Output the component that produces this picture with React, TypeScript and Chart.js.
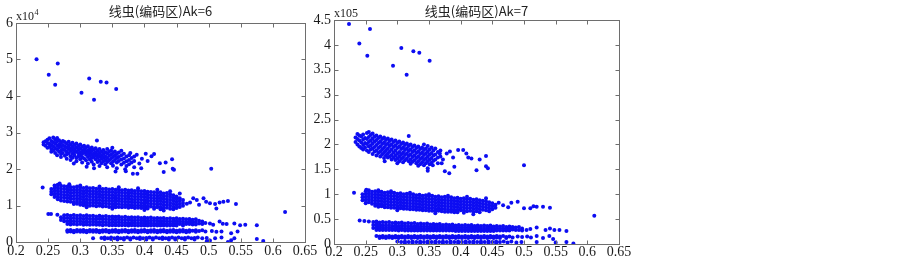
import { useEffect, useRef } from "react";
import { Chart, registerables } from "chart.js";

Chart.register(...registerables);

type Col = [number, number[]];
type Pt = [number, number];

// ---------- tick labels ----------
const xTickLabels = ["0.2", "0.25", "0.3", "0.35", "0.4", "0.45", "0.5", "0.55", "0.6", "0.65"];
const yTickLabelsAk6 = ["0", "1", "2", "3", "4", "5", "6"];
const yTickLabelsAk7 = ["0", "0.5", "1", "1.5", "2", "2.5", "3", "3.5", "4", "4.5"];

const titleAk6 = "线虫(编码区)Ak=6";
const titleAk7 = "线虫(编码区)Ak=7";
const expAk6 = "x10";
const expAk6Sup = "4";
const expAk7 = "x105";

// ---------- Ak=6 data (y in units of 10^4) ----------
const ak6Outliers: Pt[] = [
  [0.232, 5.01], [0.265, 4.89], [0.251, 4.58], [0.261, 4.31], [0.302, 4.09],
  [0.314, 4.48], [0.3215, 3.9], [0.332, 4.39], [0.341, 4.37], [0.356, 4.19],
];

const ak6UpperCols: Col[] = [
  [0.243, [2.73, 2.67]], [0.246, [2.76, 2.64]], [0.249, [2.8, 2.71, 2.58]],
  [0.252, [2.84, 2.69, 2.61]], [0.255, [2.77, 2.66, 2.55, 2.47]], [0.258, [2.86, 2.73, 2.62, 2.51]],
  [0.261, [2.81, 2.7, 2.57, 2.44]], [0.264, [2.85, 2.76, 2.64, 2.53, 2.38]], [0.267, [2.79, 2.68, 2.59, 2.47]],
  [0.27, [2.72, 2.61, 2.5, 2.41, 2.33]], [0.273, [2.77, 2.66, 2.55, 2.44]], [0.276, [2.74, 2.62, 2.52, 2.36]],
  [0.279, [2.7, 2.59, 2.47, 2.4, 2.28]], [0.282, [2.75, 2.64, 2.55, 2.43]], [0.285, [2.68, 2.57, 2.49, 2.35, 2.25]],
  [0.288, [2.72, 2.61, 2.52, 2.42, 2.31]], [0.291, [2.66, 2.55, 2.46, 2.37]], [0.294, [2.7, 2.59, 2.48, 2.3, 2.21]],
  [0.297, [2.63, 2.53, 2.43, 2.34]], [0.3, [2.67, 2.56, 2.45, 2.38, 2.27]], [0.303, [2.61, 2.5, 2.41, 2.32, 2.18]],
  [0.306, [2.64, 2.54, 2.46, 2.29]], [0.309, [2.58, 2.48, 2.39, 2.24]], [0.312, [2.62, 2.51, 2.43, 2.33, 2.15]],
  [0.315, [2.55, 2.46, 2.36, 2.26]], [0.318, [2.59, 2.49, 2.4, 2.3, 2.2]], [0.321, [2.53, 2.42, 2.33, 2.12]],
  [0.324, [2.57, 2.46, 2.37, 2.27]], [0.327, [2.5, 2.4, 2.31, 2.19]], [0.33, [2.55, 2.44, 2.34, 2.23, 2.08]],
  [0.333, [2.48, 2.38, 2.28, 2.16]], [0.336, [2.52, 2.41, 2.31, 2.21]], [0.339, [2.46, 2.35, 2.25, 2.13]],
  [0.342, [2.55, 2.43, 2.3, 2.19, 2.05]], [0.345, [2.47, 2.36, 2.24]], [0.348, [2.51, 2.39, 2.28, 2.16]],
  [0.351, [2.44, 2.33, 2.2, 2.09]], [0.354, [2.48, 2.36, 2.25]], [0.357, [2.41, 2.3, 2.18, 2.02]],
  [0.36, [2.45, 2.33, 2.22]], [0.364, [2.38, 2.26, 2.12]], [0.368, [2.42, 2.29, 2.17]],
  [0.372, [2.34, 2.21, 2.08]], [0.376, [2.38, 2.25, 2.13]], [0.38, [2.3, 2.18]], [0.384, [2.34, 2.22]],
];
const ak6UpperPts: Pt[] = [
  [0.326, 2.78], [0.3215, 2.02], [0.355, 1.93], [0.371, 1.94], [0.382, 1.87], [0.389, 1.87],
  [0.384, 2.05], [0.37, 1.99], [0.388, 2.39], [0.392, 2.15], [0.396, 2.28], [0.402, 2.42],
  [0.411, 2.35], [0.415, 2.41], [0.424, 2.16], [0.433, 2.18], [0.443, 2.27], [0.43, 1.92],
  [0.444, 2.01], [0.446, 1.98], [0.504, 2.01], [0.364, 2.5], [0.378, 2.44], [0.395, 2.02],
  [0.405, 2.22], [0.29, 2.15], [0.31, 2.06], [0.35, 2.58],
];

const ak6MidCols: Col[] = [
  [0.255, [1.45, 1.38, 1.31]], [0.26, [1.55, 1.47, 1.39, 1.31, 1.23]],
  [0.265, [1.57, 1.49, 1.41, 1.33, 1.25, 1.17]], [0.27, [1.54, 1.46, 1.38, 1.3, 1.22, 1.14]],
  [0.275, [1.53, 1.45, 1.37, 1.29, 1.21, 1.12]], [0.28, [1.52, 1.44, 1.36, 1.28, 1.2, 1.11]],
  [0.285, [1.51, 1.43, 1.35, 1.27, 1.19, 1.1]], [0.29, [1.5, 1.42, 1.34, 1.26, 1.18, 1.09, 1.04]],
  [0.295, [1.52, 1.44, 1.36, 1.28, 1.2, 1.12, 1.05]], [0.3, [1.49, 1.41, 1.33, 1.25, 1.17, 1.09, 1.02]],
  [0.305, [1.48, 1.4, 1.32, 1.24, 1.16, 1.08, 1.01]], [0.31, [1.5, 1.42, 1.34, 1.26, 1.18, 1.1, 1.03]],
  [0.315, [1.47, 1.39, 1.31, 1.23, 1.15, 1.07, 0.99]], [0.32, [1.48, 1.4, 1.32, 1.24, 1.16, 1.08, 1.0]],
  [0.325, [1.46, 1.38, 1.3, 1.22, 1.14, 1.06, 0.98]], [0.33, [1.47, 1.39, 1.31, 1.23, 1.15, 1.07, 0.99]],
  [0.335, [1.45, 1.37, 1.29, 1.21, 1.13, 1.05, 0.97]], [0.34, [1.46, 1.38, 1.3, 1.22, 1.14, 1.06, 0.98]],
  [0.345, [1.44, 1.36, 1.28, 1.2, 1.12, 1.04, 0.96]], [0.35, [1.45, 1.37, 1.29, 1.21, 1.13, 1.05, 0.97]],
  [0.355, [1.43, 1.35, 1.27, 1.19, 1.11, 1.03, 0.95]], [0.36, [1.44, 1.36, 1.28, 1.2, 1.12, 1.04, 0.96]],
  [0.365, [1.42, 1.34, 1.26, 1.18, 1.1, 1.02, 0.95]], [0.37, [1.43, 1.35, 1.27, 1.19, 1.11, 1.03, 0.96]],
  [0.375, [1.41, 1.33, 1.25, 1.17, 1.09, 1.01, 0.94]], [0.38, [1.42, 1.34, 1.26, 1.18, 1.1, 1.02, 0.95]],
  [0.385, [1.4, 1.32, 1.24, 1.16, 1.08, 1.0, 0.93]], [0.39, [1.41, 1.33, 1.25, 1.17, 1.09, 1.01, 0.94]],
  [0.395, [1.39, 1.31, 1.23, 1.15, 1.07, 0.99, 0.93]], [0.4, [1.4, 1.32, 1.24, 1.16, 1.08, 1.0, 0.92]],
  [0.405, [1.38, 1.3, 1.22, 1.14, 1.06, 0.98, 0.92]], [0.41, [1.37, 1.29, 1.21, 1.13, 1.05, 0.97]],
  [0.415, [1.36, 1.28, 1.2, 1.12, 1.04, 0.96, 0.91]], [0.42, [1.35, 1.27, 1.19, 1.11, 1.03, 0.95]],
  [0.425, [1.36, 1.28, 1.2, 1.12, 1.04, 0.96, 0.9]], [0.43, [1.33, 1.25, 1.17, 1.09, 1.01, 0.93]],
  [0.435, [1.34, 1.26, 1.18, 1.1, 1.02, 0.94]], [0.44, [1.31, 1.23, 1.15, 1.07, 0.99, 0.91]],
  [0.445, [1.28, 1.2, 1.12, 1.04, 0.96, 0.9]], [0.45, [1.25, 1.17, 1.09, 1.01, 0.93]],
  [0.455, [1.2, 1.12, 1.04, 0.96]], [0.46, [1.15, 1.07, 0.99]],
];
const ak6MidPts: Pt[] = [
  [0.2415, 1.49], [0.268, 1.6], [0.283, 1.58], [0.3, 1.55], [0.33, 1.52], [0.36, 1.5],
  [0.39, 1.47], [0.42, 1.43], [0.44, 1.39], [0.455, 1.33], [0.31, 0.95], [0.35, 0.91],
  [0.4, 0.88], [0.43, 0.86], [0.466, 1.05], [0.471, 1.08], [0.476, 1.2], [0.4815, 1.15],
  [0.485, 1.02], [0.492, 1.2], [0.496, 1.1], [0.502, 1.06], [0.51, 1.04], [0.512, 0.92],
  [0.517, 1.08], [0.523, 1.1], [0.53, 1.12], [0.5425, 1.04], [0.619, 0.82],
];

const ak6LowCols: Col[] = [
  [0.27, [0.68, 0.6]], [0.275, [0.73, 0.65, 0.57]], [0.28, [0.74, 0.66, 0.57, 0.49]],
  [0.285, [0.72, 0.64, 0.56, 0.48]], [0.29, [0.74, 0.66, 0.57, 0.49]], [0.295, [0.72, 0.64, 0.56, 0.48]],
  [0.3, [0.73, 0.65, 0.57, 0.49]], [0.305, [0.71, 0.63, 0.55, 0.47]], [0.31, [0.73, 0.65, 0.56, 0.48]],
  [0.315, [0.71, 0.63, 0.55, 0.47]], [0.32, [0.72, 0.64, 0.56, 0.48]], [0.325, [0.7, 0.62, 0.54, 0.47]],
  [0.33, [0.72, 0.64, 0.55, 0.47]], [0.335, [0.7, 0.62, 0.54, 0.46]], [0.34, [0.71, 0.63, 0.55, 0.47]],
  [0.345, [0.69, 0.61, 0.53, 0.46]], [0.35, [0.7, 0.62, 0.54, 0.46]], [0.355, [0.69, 0.61, 0.53, 0.46]],
  [0.36, [0.7, 0.62, 0.54, 0.46]], [0.365, [0.68, 0.6, 0.53, 0.46]], [0.37, [0.69, 0.61, 0.53, 0.46]],
  [0.375, [0.67, 0.6, 0.52, 0.45]], [0.38, [0.68, 0.6, 0.53, 0.46]], [0.385, [0.67, 0.59, 0.52, 0.45]],
  [0.39, [0.68, 0.6, 0.52, 0.45]], [0.395, [0.66, 0.59, 0.52, 0.45]], [0.4, [0.67, 0.59, 0.52, 0.45]],
  [0.405, [0.66, 0.58, 0.51, 0.45]], [0.41, [0.67, 0.59, 0.52, 0.45]], [0.415, [0.65, 0.58, 0.51, 0.45]],
  [0.42, [0.66, 0.58, 0.51, 0.45]], [0.425, [0.65, 0.57, 0.51, 0.45]], [0.43, [0.66, 0.58, 0.51, 0.45]],
  [0.435, [0.64, 0.57, 0.5, 0.45]], [0.44, [0.65, 0.57, 0.5, 0.45]], [0.445, [0.64, 0.57, 0.5, 0.45]],
  [0.45, [0.65, 0.57, 0.5, 0.45]], [0.455, [0.63, 0.56, 0.49]], [0.46, [0.64, 0.56, 0.5, 0.45]],
  [0.465, [0.62, 0.55, 0.49]], [0.47, [0.63, 0.56, 0.49]], [0.475, [0.61, 0.54, 0.48]],
  [0.48, [0.62, 0.55, 0.48]], [0.485, [0.58, 0.51]], [0.49, [0.56, 0.49]],
];
const ak6LowPts: Pt[] = [
  [0.2503, 0.77], [0.2545, 0.77], [0.2644, 0.75], [0.495, 0.52], [0.502, 0.51], [0.507, 0.47],
  [0.517, 0.56], [0.522, 0.5], [0.528, 0.49], [0.54, 0.51], [0.549, 0.46], [0.557, 0.47],
  [0.575, 0.46],
];

const ak6ThinCols: Col[] = [
  [0.28, [0.32, 0.28]], [0.285, [0.33, 0.29]], [0.29, [0.31, 0.27]], [0.295, [0.33, 0.29]],
  [0.3, [0.32, 0.28]], [0.305, [0.33, 0.28]], [0.31, [0.31, 0.27]], [0.315, [0.33, 0.29]],
  [0.32, [0.32, 0.28]], [0.325, [0.33, 0.28]], [0.33, [0.31, 0.27]], [0.335, [0.32, 0.28]],
  [0.34, [0.33, 0.29]], [0.345, [0.31, 0.27]], [0.35, [0.32, 0.28]], [0.355, [0.33, 0.28]],
  [0.36, [0.31, 0.27]], [0.365, [0.32, 0.28]], [0.37, [0.33, 0.29]], [0.375, [0.31, 0.27]],
  [0.38, [0.32, 0.28]], [0.385, [0.33, 0.28]], [0.39, [0.31, 0.27]], [0.395, [0.32, 0.28]],
  [0.4, [0.33, 0.29]], [0.405, [0.31, 0.27]], [0.41, [0.32, 0.28]], [0.415, [0.33, 0.28]],
  [0.42, [0.31, 0.27]], [0.425, [0.32, 0.28]], [0.43, [0.33, 0.29]], [0.435, [0.31, 0.27]],
  [0.44, [0.32, 0.28]], [0.445, [0.33, 0.28]], [0.45, [0.31, 0.27]], [0.455, [0.32, 0.28]],
  [0.46, [0.33, 0.29]], [0.465, [0.31, 0.27]], [0.47, [0.32, 0.28]], [0.475, [0.31]],
  [0.48, [0.32, 0.28]], [0.485, [0.3]], [0.49, [0.32]], [0.495, [0.29]],
];
const ak6ThinPts: Pt[] = [
  [0.505, 0.3], [0.512, 0.28], [0.52, 0.29], [0.535, 0.24], [0.545, 0.29],
];

const ak6BaseCols: Col[] = [
  [0.333, [0.11]], [0.338, [0.12, 0.08]], [0.343, [0.1]], [0.348, [0.12, 0.08]], [0.353, [0.1]],
  [0.358, [0.12, 0.07]], [0.363, [0.1]], [0.368, [0.11, 0.07]], [0.373, [0.12]], [0.378, [0.1, 0.07]],
  [0.383, [0.12]], [0.388, [0.1]], [0.393, [0.12, 0.08]], [0.398, [0.1]], [0.403, [0.11, 0.07]],
  [0.408, [0.12]], [0.413, [0.1, 0.07]], [0.418, [0.12]], [0.423, [0.1]], [0.428, [0.12, 0.08]],
  [0.433, [0.1]], [0.438, [0.11, 0.07]], [0.443, [0.12]], [0.448, [0.1, 0.07]], [0.453, [0.12]],
  [0.458, [0.1]], [0.463, [0.11, 0.07]], [0.468, [0.12]], [0.473, [0.1]], [0.478, [0.11, 0.07]],
  [0.483, [0.12]], [0.49, [0.1]], [0.497, [0.11, 0.02]],
];
const ak6BasePts: Pt[] = [
  [0.32, 0.1], [0.502, 0.04], [0.51, 0.1], [0.52, 0.12], [0.53, 0.0], [0.535, 0.05],
  [0.54, 0.1], [0.575, 0.08], [0.585, 0.03],
];

// ---------- Ak=7 data (y in units of 10^5) ----------
const ak7Outliers: Pt[] = [
  [0.2237, 4.42], [0.2568, 4.32], [0.24, 4.03], [0.2526, 3.78], [0.2932, 3.58],
  [0.3063, 3.94], [0.3147, 3.4], [0.3253, 3.87], [0.3347, 3.84], [0.351, 3.68],
];

const ak7UpperCols: Col[] = [
  [0.234, [2.14, 2.05]], [0.237, [2.21, 2.11, 2.0]], [0.24, [2.18, 2.08, 1.96]],
  [0.243, [2.16, 2.04, 1.93]], [0.246, [2.2, 2.1, 1.99, 1.9]], [0.249, [2.13, 2.03, 1.94]],
  [0.252, [2.23, 2.11, 2.01, 1.88]], [0.255, [2.25, 2.15, 2.05, 1.96, 1.85]], [0.258, [2.19, 2.08, 1.98, 1.9]],
  [0.261, [2.22, 2.12, 2.02, 1.92, 1.81]], [0.264, [2.16, 2.06, 1.95, 1.86]], [0.267, [2.18, 2.09, 1.99, 1.88, 1.78]],
  [0.27, [2.13, 2.03, 1.93, 1.83]], [0.273, [2.16, 2.06, 1.96, 1.86, 1.76]], [0.276, [2.11, 2.01, 1.9, 1.8]],
  [0.279, [2.14, 2.04, 1.94, 1.84, 1.73]], [0.282, [2.09, 1.99, 1.88, 1.78]], [0.285, [2.12, 2.02, 1.92, 1.82, 1.74]],
  [0.288, [2.07, 1.97, 1.86, 1.76]], [0.291, [2.1, 2.0, 1.9, 1.79, 1.7]], [0.294, [2.05, 1.95, 1.84, 1.74]],
  [0.297, [2.08, 1.98, 1.88, 1.78, 1.69]], [0.3, [2.03, 1.93, 1.82, 1.72]], [0.303, [2.06, 1.96, 1.85, 1.76, 1.66]],
  [0.306, [2.01, 1.91, 1.8, 1.71]], [0.309, [2.04, 1.94, 1.84, 1.74, 1.64]], [0.312, [1.99, 1.89, 1.79, 1.68]],
  [0.315, [2.02, 1.92, 1.82, 1.72]], [0.318, [2.17, 1.97, 1.87, 1.77, 1.66]], [0.321, [2.0, 1.9, 1.8, 1.7, 1.61]],
  [0.324, [1.95, 1.85, 1.75, 1.65]], [0.327, [1.98, 1.88, 1.78, 1.68]], [0.33, [1.93, 1.83, 1.73, 1.62]],
  [0.333, [1.96, 1.86, 1.76, 1.66, 1.57]], [0.336, [1.91, 1.81, 1.71, 1.6]], [0.339, [1.94, 1.84, 1.74, 1.64]],
  [0.342, [2.0, 1.89, 1.79, 1.69, 1.58]], [0.345, [1.92, 1.82, 1.72, 1.62]], [0.348, [1.97, 1.86, 1.76, 1.66, 1.52]],
  [0.351, [1.9, 1.8, 1.7, 1.6]], [0.354, [1.94, 1.83, 1.73, 1.63]], [0.357, [1.88, 1.78, 1.67]],
  [0.36, [1.92, 1.8, 1.7]], [0.364, [1.85, 1.74, 1.62]], [0.368, [1.88, 1.76]],
];
const ak7UpperPts: Pt[] = [
  [0.348, 1.47], [0.356, 1.58], [0.367, 1.82], [0.372, 1.7], [0.375, 1.46], [0.378, 1.82],
  [0.382, 1.42], [0.383, 1.86], [0.388, 1.74], [0.396, 1.89], [0.404, 1.89], [0.409, 1.82],
  [0.412, 1.74], [0.417, 1.72], [0.425, 1.48], [0.43, 1.7], [0.44, 1.77], [0.44, 1.56],
  [0.443, 1.52], [0.5, 1.58], [0.37, 1.62], [0.39, 1.55], [0.28, 1.66], [0.3, 1.62],
];

const ak7MidCols: Col[] = [
  [0.245, [1.0, 0.94, 0.88]], [0.25, [1.06, 1.0, 0.94, 0.88, 0.82]], [0.255, [1.08, 1.02, 0.96, 0.9, 0.84]],
  [0.26, [1.05, 0.99, 0.93, 0.87, 0.81]], [0.265, [1.06, 1.0, 0.94, 0.88, 0.82, 0.77]],
  [0.27, [1.04, 0.98, 0.92, 0.86, 0.8, 0.75]], [0.275, [1.05, 0.99, 0.93, 0.87, 0.81, 0.76]],
  [0.28, [1.03, 0.97, 0.91, 0.85, 0.79, 0.74]], [0.285, [1.04, 0.98, 0.92, 0.86, 0.8, 0.74]],
  [0.29, [1.02, 0.96, 0.9, 0.84, 0.78, 0.73]], [0.295, [1.03, 0.97, 0.91, 0.85, 0.79, 0.73]],
  [0.3, [1.01, 0.95, 0.89, 0.83, 0.77, 0.72]], [0.305, [1.02, 0.96, 0.9, 0.84, 0.78, 0.72]],
  [0.31, [1.0, 0.94, 0.88, 0.82, 0.76, 0.71]], [0.315, [1.01, 0.95, 0.89, 0.83, 0.77, 0.71]],
  [0.32, [0.99, 0.93, 0.87, 0.81, 0.75, 0.7]], [0.325, [1.0, 0.94, 0.88, 0.82, 0.76, 0.7]],
  [0.33, [0.98, 0.92, 0.86, 0.8, 0.74, 0.69]], [0.335, [0.99, 0.93, 0.87, 0.81, 0.75, 0.69]],
  [0.34, [0.97, 0.91, 0.85, 0.79, 0.73, 0.68]], [0.345, [0.98, 0.92, 0.86, 0.8, 0.74, 0.68]],
  [0.35, [0.96, 0.9, 0.84, 0.78, 0.72, 0.67]], [0.355, [0.97, 0.91, 0.85, 0.79, 0.73, 0.67]],
  [0.36, [0.95, 0.89, 0.83, 0.77, 0.71, 0.66]], [0.365, [0.96, 0.9, 0.84, 0.78, 0.72, 0.67]],
  [0.37, [0.94, 0.88, 0.82, 0.76, 0.7, 0.66]], [0.375, [0.95, 0.89, 0.83, 0.77, 0.71, 0.65]],
  [0.38, [0.93, 0.87, 0.81, 0.75, 0.69, 0.65]], [0.385, [0.94, 0.88, 0.82, 0.76, 0.7, 0.65]],
  [0.39, [0.92, 0.86, 0.8, 0.74, 0.68, 0.64]], [0.395, [0.93, 0.87, 0.81, 0.75, 0.69, 0.64]],
  [0.4, [0.91, 0.85, 0.79, 0.73, 0.68]], [0.405, [0.92, 0.86, 0.8, 0.74, 0.68, 0.63]],
  [0.41, [0.9, 0.84, 0.78, 0.72, 0.66]], [0.415, [0.91, 0.85, 0.79, 0.73, 0.67]],
  [0.42, [0.89, 0.83, 0.77, 0.71, 0.65]], [0.425, [0.9, 0.84, 0.78, 0.72, 0.66]],
  [0.43, [0.88, 0.82, 0.76, 0.7, 0.64]], [0.435, [0.87, 0.81, 0.75, 0.69]],
  [0.44, [0.86, 0.8, 0.74, 0.68]], [0.445, [0.84, 0.78, 0.72, 0.66]],
  [0.45, [0.82, 0.76, 0.7]], [0.455, [0.79, 0.73]],
];
const ak7MidPts: Pt[] = [
  [0.2316, 1.03], [0.251, 1.09], [0.27, 1.08], [0.29, 1.06], [0.32, 1.03], [0.35, 1.0],
  [0.38, 0.97], [0.41, 0.95], [0.44, 0.92], [0.3, 0.68], [0.36, 0.62], [0.42, 0.6],
  [0.46, 0.83], [0.467, 0.78], [0.475, 0.74], [0.48, 0.83], [0.49, 0.85], [0.5, 0.72],
  [0.51, 0.72], [0.515, 0.76], [0.52, 0.75], [0.53, 0.75], [0.541, 0.73], [0.611, 0.57],
];

const ak7LowCols: Col[] = [
  [0.262, [0.44, 0.38, 0.32]], [0.267, [0.45, 0.39, 0.33, 0.28]], [0.272, [0.43, 0.37, 0.32, 0.28]],
  [0.277, [0.44, 0.38, 0.33, 0.28]], [0.282, [0.43, 0.37, 0.32, 0.28]], [0.287, [0.44, 0.38, 0.33, 0.28]],
  [0.292, [0.42, 0.36, 0.31, 0.28]], [0.297, [0.43, 0.37, 0.32, 0.28]], [0.302, [0.42, 0.36, 0.31, 0.27]],
  [0.307, [0.43, 0.37, 0.32, 0.28]], [0.312, [0.41, 0.36, 0.31, 0.27]], [0.317, [0.42, 0.36, 0.31, 0.27]],
  [0.322, [0.41, 0.35, 0.31, 0.27]], [0.327, [0.42, 0.36, 0.31, 0.27]], [0.332, [0.4, 0.35, 0.31, 0.27]],
  [0.337, [0.41, 0.35, 0.31, 0.27]], [0.342, [0.4, 0.35, 0.3, 0.27]], [0.347, [0.41, 0.35, 0.31, 0.27]],
  [0.352, [0.39, 0.34, 0.3, 0.27]], [0.357, [0.4, 0.35, 0.3, 0.27]], [0.362, [0.39, 0.34, 0.3, 0.27]],
  [0.367, [0.4, 0.35, 0.3, 0.27]], [0.372, [0.38, 0.34, 0.3, 0.27]], [0.377, [0.39, 0.34, 0.3, 0.27]],
  [0.382, [0.38, 0.34, 0.3, 0.27]], [0.387, [0.39, 0.34, 0.3, 0.27]], [0.392, [0.37, 0.33, 0.29, 0.26]],
  [0.397, [0.38, 0.33, 0.29, 0.26]], [0.402, [0.37, 0.33, 0.29, 0.26]], [0.407, [0.38, 0.33, 0.29, 0.26]],
  [0.412, [0.37, 0.33, 0.29, 0.26]], [0.417, [0.38, 0.33, 0.29, 0.26]], [0.422, [0.36, 0.32, 0.29, 0.26]],
  [0.427, [0.37, 0.33, 0.29, 0.26]], [0.432, [0.36, 0.32, 0.28, 0.26]], [0.437, [0.37, 0.32, 0.28, 0.26]],
  [0.442, [0.36, 0.32, 0.28, 0.26]], [0.447, [0.37, 0.32, 0.28, 0.26]], [0.452, [0.35, 0.31, 0.28, 0.26]],
  [0.457, [0.36, 0.31, 0.27]], [0.462, [0.35, 0.31, 0.27]], [0.467, [0.36, 0.31, 0.27]],
  [0.472, [0.34, 0.3, 0.27]], [0.477, [0.35, 0.3, 0.27]], [0.482, [0.34, 0.29]],
  [0.487, [0.33, 0.28]], [0.492, [0.34, 0.28]], [0.497, [0.31, 0.27]],
];
const ak7LowPts: Pt[] = [
  [0.2405, 0.47], [0.248, 0.46], [0.255, 0.45], [0.504, 0.28], [0.51, 0.3], [0.52, 0.33],
  [0.534, 0.28], [0.541, 0.31], [0.548, 0.28], [0.556, 0.28], [0.567, 0.26],
];

const ak7ThinCols: Col[] = [
  [0.267, [0.16]], [0.272, [0.15, 0.12]], [0.277, [0.16, 0.13]], [0.282, [0.15, 0.12]],
  [0.287, [0.16, 0.13]], [0.292, [0.15, 0.12]], [0.297, [0.16, 0.13]], [0.302, [0.15, 0.12]],
  [0.307, [0.16, 0.13]], [0.312, [0.15, 0.12]], [0.317, [0.16, 0.13]], [0.322, [0.15, 0.12]],
  [0.327, [0.16, 0.13]], [0.332, [0.15, 0.12]], [0.337, [0.16, 0.13]], [0.342, [0.15, 0.12]],
  [0.347, [0.16, 0.13]], [0.352, [0.15, 0.12]], [0.357, [0.16, 0.13]], [0.362, [0.15, 0.12]],
  [0.367, [0.16, 0.13]], [0.372, [0.15, 0.12]], [0.377, [0.16, 0.13]], [0.382, [0.15, 0.12]],
  [0.387, [0.16, 0.13]], [0.392, [0.15, 0.12]], [0.397, [0.16, 0.13]], [0.402, [0.15, 0.12]],
  [0.407, [0.16, 0.13]], [0.412, [0.15, 0.12]], [0.417, [0.16, 0.13]], [0.422, [0.15, 0.12]],
  [0.427, [0.16, 0.13]], [0.432, [0.15, 0.12]], [0.437, [0.16, 0.13]], [0.442, [0.15, 0.12]],
  [0.447, [0.16, 0.13]], [0.452, [0.15, 0.12]], [0.457, [0.16, 0.13]], [0.462, [0.15, 0.12]],
  [0.467, [0.16]], [0.472, [0.14, 0.12]], [0.477, [0.15]], [0.482, [0.13]], [0.49, [0.15]],
  [0.497, [0.14]],
];
const ak7ThinPts: Pt[] = [
  [0.505, 0.15], [0.511, 0.13], [0.52, 0.16], [0.53, 0.12], [0.54, 0.16], [0.546, 0.1],
];

const ak7BaseCols: Col[] = [
  [0.3, [0.05]], [0.306, [0.04]], [0.312, [0.05, 0.02]], [0.318, [0.04]], [0.324, [0.05, 0.02]],
  [0.33, [0.04]], [0.336, [0.05, 0.02]], [0.342, [0.04]], [0.348, [0.05, 0.02]], [0.354, [0.04]],
  [0.36, [0.05, 0.02]], [0.366, [0.04]], [0.372, [0.05, 0.02]], [0.378, [0.04]], [0.384, [0.05, 0.02]],
  [0.39, [0.04]], [0.396, [0.05, 0.02]], [0.402, [0.04]], [0.408, [0.05, 0.02]], [0.414, [0.04]],
  [0.42, [0.05, 0.02]], [0.426, [0.04]], [0.432, [0.05, 0.02]], [0.438, [0.04]], [0.444, [0.05, 0.02]],
  [0.45, [0.04]], [0.456, [0.05, 0.02]], [0.462, [0.04]], [0.468, [0.05]], [0.474, [0.03]],
  [0.48, [0.05]], [0.488, [0.03]], [0.496, [0.04]],
];
const ak7BasePts: Pt[] = [
  [0.52, 0.04], [0.55, 0.03], [0.567, 0.04], [0.578, 0.01],
];

// ---------- helpers ----------
function buildPoints(cols: Col[][], pts: Pt[][]) {
  const out: { x: number; y: number }[] = [];
  for (const group of cols) for (const [x, ys] of group) for (const y of ys) out.push({ x, y });
  for (const group of pts) for (const [x, y] of group) out.push({ x, y });
  return out;
}

const ak6Points = buildPoints(
  [ak6UpperCols, ak6MidCols, ak6LowCols, ak6ThinCols, ak6BaseCols],
  [ak6Outliers, ak6UpperPts, ak6MidPts, ak6LowPts, ak6ThinPts, ak6BasePts]
);
const ak7Points = buildPoints(
  [ak7UpperCols, ak7MidCols, ak7LowCols, ak7ThinCols, ak7BaseCols],
  [ak7Outliers, ak7UpperPts, ak7MidPts, ak7LowPts, ak7ThinPts, ak7BasePts]
);

const SERIF = '"Liberation Serif", "DejaVu Serif", serif';
const CJK = '"Noto Sans CJK SC", "Noto Sans", sans-serif';

const matlabBox = {
  id: "matlabBox",
  afterDraw(chart: any, _args: any, opts: any) {
    const { ctx, chartArea } = chart;
    const { left, right, top, bottom } = chartArea;
    const xs = chart.scales.x;
    const ys = chart.scales.y;
    const L = Math.round(left) + 0.5;
    const R = Math.round(right) + 0.5;
    const T = Math.round(top) + 0.5;
    const B = Math.round(bottom) + 0.5;
    ctx.save();
    ctx.strokeStyle = "#6e6e6e";
    ctx.lineWidth = 1;
    ctx.strokeRect(L, T, R - L, B - T);
    ctx.beginPath();
    for (const t of xs.ticks) {
      const px = Math.round(xs.getPixelForValue(t.value)) + 0.5;
      ctx.moveTo(px, B);
      ctx.lineTo(px, B - 4);
      ctx.moveTo(px, T);
      ctx.lineTo(px, T + 4);
    }
    for (const t of ys.ticks) {
      const py = Math.round(ys.getPixelForValue(t.value)) + 0.5;
      ctx.moveTo(L, py);
      ctx.lineTo(L + 4, py);
      ctx.moveTo(R, py);
      ctx.lineTo(R - 4, py);
    }
    ctx.stroke();

    ctx.fillStyle = "#222";
    ctx.font = `13px ${CJK}`;
    ctx.textAlign = "center";
    ctx.textBaseline = "alphabetic";
    ctx.fillText(opts.title, (left + right) / 2, opts.titleY);

    ctx.textAlign = "left";
    ctx.font = `12px ${SERIF}`;
    ctx.fillText(opts.exp, left, opts.expY);
    if (opts.sup) {
      const w = ctx.measureText(opts.exp).width;
      ctx.font = `8px ${SERIF}`;
      ctx.fillText(opts.sup, left + w + 0.5, opts.expY - 5);
    }
    ctx.restore();
  },
};

function makeChart(
  canvas: HTMLCanvasElement,
  points: { x: number; y: number }[],
  yMax: number,
  yStep: number,
  yLabels: string[],
  yAxisWidth: number,
  padTop: number,
  padRight: number,
  xAxisHeight: number,
  xLabelPad: number,
  box: any
) {
  return new Chart(canvas, {
    type: "scatter",
    data: {
      datasets: [
        {
          data: points,
          backgroundColor: "#0d0df2",
          borderWidth: 0,
          pointRadius: 2,
          pointHoverRadius: 2,
        },
      ],
    },
    options: {
      animation: false,
      responsive: false,
      events: [],
      layout: { padding: { left: 0, right: padRight, top: padTop, bottom: 0 } },
      plugins: {
        legend: { display: false },
        tooltip: { enabled: false },
        title: { display: false },
        matlabBox: box,
      } as any,
      scales: {
        x: {
          type: "linear",
          min: 0.2,
          max: 0.65,
          grid: { display: false, drawTicks: false },
          border: { display: false },
          ticks: {
            stepSize: 0.05,
            autoSkip: false,
            maxRotation: 0,
            minRotation: 0,
            padding: xLabelPad,
            color: "#1a1a1a",
            font: { family: SERIF, size: 14 },
            callback: (v: any) => xTickLabels[Math.round((Number(v) - 0.2) / 0.05)] ?? "",
          },
          afterFit: (s: any) => {
            s.height = xAxisHeight;
          },
        },
        y: {
          type: "linear",
          min: 0,
          max: yMax,
          grid: { display: false, drawTicks: false },
          border: { display: false },
          ticks: {
            stepSize: yStep,
            autoSkip: false,
            padding: 3,
            color: "#1a1a1a",
            font: { family: SERIF, size: 14 },
            callback: (v: any) => yLabels[Math.round(Number(v) / yStep)] ?? "",
          },
          afterFit: (s: any) => {
            s.width = yAxisWidth;
          },
        },
      },
    },
    plugins: [matlabBox as any],
  });
}

export default function App() {
  const leftRef = useRef<HTMLCanvasElement | null>(null);
  const rightRef = useRef<HTMLCanvasElement | null>(null);

  useEffect(() => {
    if (!leftRef.current || !rightRef.current) return;
    const c1 = makeChart(leftRef.current, ak6Points, 6, 1, yTickLabelsAk6, 16, 23, 25, 20, 1, {
      title: titleAk6,
      titleY: 16,
      exp: expAk6,
      sup: expAk6Sup,
      expY: 20,
    });
    const c2 = makeChart(rightRef.current, ak7Points, 4.5, 0.5, yTickLabelsAk7, 34, 20, 21, 18, 0, {
      title: titleAk7,
      titleY: 16,
      exp: expAk7,
      sup: "",
      expY: 17,
    });
    return () => {
      c1.destroy();
      c2.destroy();
    };
  }, []);

  return (
    <div
      style={{
        position: "absolute",
        left: 0,
        top: 0,
        width: 903,
        height: 262,
        background: "#fff",
        overflow: "hidden",
      }}
    >
      <canvas
        ref={leftRef}
        width={330}
        height={262}
        style={{ position: "absolute", left: 0, top: 0, width: 330, height: 262 }}
      />
      <canvas
        ref={rightRef}
        width={340}
        height={262}
        style={{ position: "absolute", left: 300, top: 0, width: 340, height: 262 }}
      />
    </div>
  );
}
